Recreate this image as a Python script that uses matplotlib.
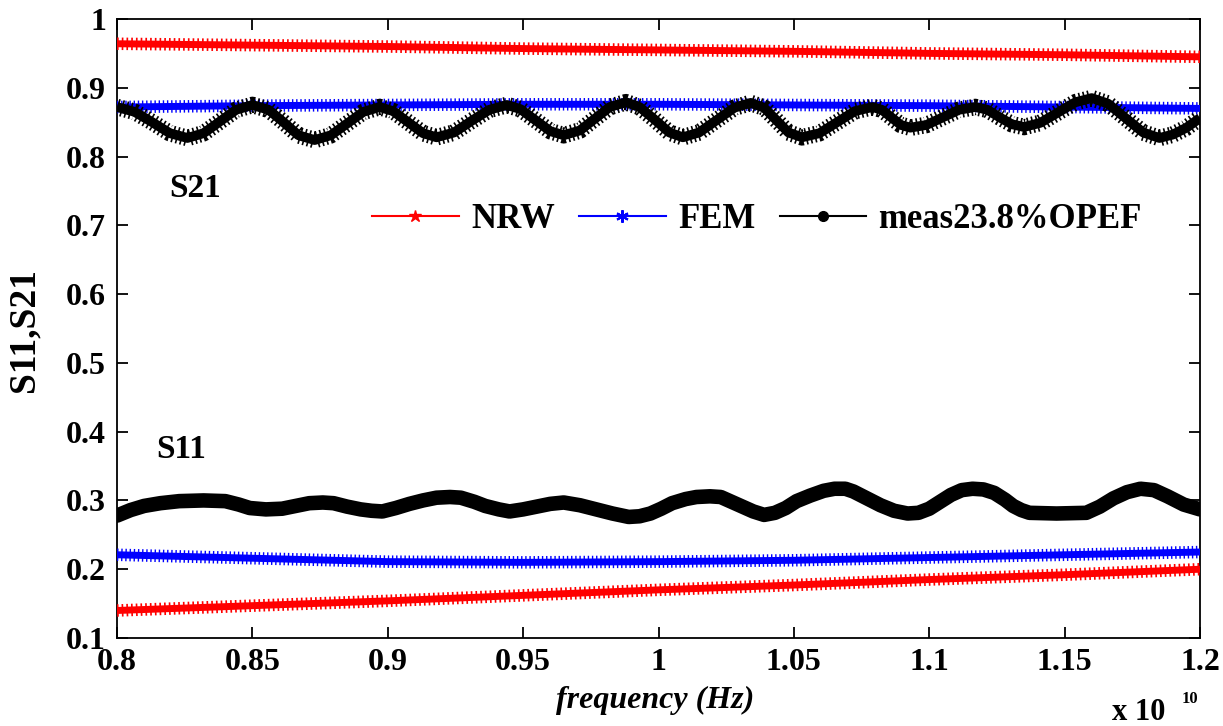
import numpy as np
import matplotlib
matplotlib.use("Agg")
import matplotlib.pyplot as plt
from matplotlib.lines import Line2D
from matplotlib.ticker import FuncFormatter, MultipleLocator

plt.rcParams['font.family'] = ['Liberation Serif', 'DejaVu Serif']
plt.rcParams['font.weight'] = 'bold'
plt.rcParams['lines.scale_dashes'] = False

# ---- data (frequency in units of 1e10 Hz) ----
freq_model = [0.80, 0.85, 0.90, 0.95, 1.00, 1.05, 1.10, 1.15, 1.20]
nrw_s21 = [0.964, 0.962, 0.960, 0.957, 0.955, 0.953, 0.950, 0.948, 0.945]
fem_s21 = [0.872, 0.874, 0.875, 0.876, 0.876, 0.875, 0.874, 0.872, 0.870]
nrw_s11 = [0.140, 0.147, 0.154, 0.162, 0.170, 0.177, 0.185, 0.192, 0.200]
fem_s11 = [0.221, 0.216, 0.211, 0.210, 0.211, 0.213, 0.217, 0.221, 0.225]

freq_meas_s21 = [0.800, 0.8065, 0.813, 0.8195, 0.826, 0.832, 0.838, 0.844, 0.850,
                 0.856, 0.8615, 0.867, 0.873, 0.879, 0.885, 0.891, 0.897, 0.902,
                 0.9075, 0.913, 0.918, 0.9245, 0.931, 0.9375, 0.944, 0.949, 0.9545,
                 0.960, 0.965, 0.971, 0.9765, 0.982, 0.988, 0.993, 0.9985, 1.004,
                 1.009, 1.015, 1.0215, 1.028, 1.034, 1.039, 1.0435, 1.048, 1.053,
                 1.0595, 1.066, 1.0725, 1.079, 1.0825, 1.086, 1.0895, 1.093, 1.099,
                 1.105, 1.111, 1.117, 1.1215, 1.126, 1.1305, 1.135, 1.141, 1.1475,
                 1.154, 1.160, 1.166, 1.1725, 1.179, 1.185, 1.190, 1.195, 1.200]
meas_s21 = [0.872, 0.865, 0.850, 0.834, 0.827, 0.834, 0.851, 0.868, 0.875,
            0.868, 0.850, 0.831, 0.824, 0.831, 0.848, 0.865, 0.872, 0.866,
            0.850, 0.834, 0.828, 0.835, 0.852, 0.868, 0.875, 0.869, 0.853,
            0.837, 0.831, 0.838, 0.855, 0.872, 0.879, 0.872, 0.854, 0.835,
            0.828, 0.835, 0.853, 0.871, 0.878, 0.871, 0.853, 0.835, 0.828,
            0.834, 0.850, 0.866, 0.872, 0.868, 0.857, 0.846, 0.842, 0.846,
            0.857, 0.868, 0.872, 0.868, 0.857, 0.847, 0.843, 0.849, 0.864,
            0.879, 0.885, 0.877, 0.856, 0.835, 0.827, 0.832, 0.842, 0.856]

freq_meas_s11 = [0.800, 0.805, 0.810, 0.816, 0.823, 0.832, 0.840, 0.845, 0.849,
                 0.855, 0.861, 0.866, 0.871, 0.876, 0.880, 0.885, 0.890, 0.894,
                 0.898, 0.903, 0.908, 0.913, 0.918, 0.923, 0.927, 0.932, 0.936,
                 0.941, 0.945, 0.950, 0.955, 0.960, 0.965, 0.971, 0.977, 0.983,
                 0.989, 0.993, 0.997, 1.001, 1.005, 1.010, 1.014, 1.019, 1.023,
                 1.027, 1.031, 1.035, 1.039, 1.043, 1.047, 1.051, 1.056, 1.061,
                 1.065, 1.069, 1.072, 1.077, 1.082, 1.087, 1.092, 1.096, 1.100,
                 1.104, 1.108, 1.112, 1.116, 1.120, 1.124, 1.128, 1.131, 1.134,
                 1.137, 1.147, 1.158, 1.163, 1.168, 1.173, 1.178, 1.183, 1.188,
                 1.194, 1.200]
meas_s11 = [0.278, 0.286, 0.292, 0.296, 0.299, 0.300, 0.299, 0.294, 0.289,
            0.287, 0.288, 0.292, 0.296, 0.297, 0.296, 0.291, 0.287, 0.285,
            0.284, 0.289, 0.295, 0.300, 0.304, 0.305, 0.304, 0.298, 0.292,
            0.287, 0.284, 0.287, 0.291, 0.295, 0.297, 0.293, 0.287, 0.281,
            0.276, 0.277, 0.281, 0.288, 0.296, 0.302, 0.305, 0.306, 0.305,
            0.298, 0.291, 0.284, 0.279, 0.282, 0.289, 0.299, 0.307, 0.314,
            0.317, 0.317, 0.313, 0.303, 0.293, 0.285, 0.281, 0.282, 0.288,
            0.298, 0.308, 0.315, 0.317, 0.316, 0.311, 0.301, 0.292, 0.286,
            0.282, 0.281, 0.282, 0.291, 0.303, 0.312, 0.317, 0.315, 0.306,
            0.294, 0.287]

series_names = ['NRW', 'FEM', 'meas23.8%OPEF']
SCALE = 1e10

fig = plt.figure(figsize=(12.23, 7.26), dpi=100)
ax = fig.add_axes([117 / 1223, 88 / 726, 1083 / 1223, 619 / 726])


def hz(seq):
    return np.asarray(seq) * SCALE


def dense_band(x, y, color, core, edge, dash):
    # solid core plus a short-dashed wider stroke gives the packed-marker band look
    ax.plot(x, y, color=color, lw=core, solid_capstyle='butt', zorder=3)
    ax.plot(x, y, color=color, lw=edge, dashes=dash, solid_capstyle='butt',
            dash_capstyle='butt', zorder=3)


f_model = hz(freq_model)
dense_band(f_model, nrw_s21, 'red', 5.0, 9.0, (1.2, 2.2))
dense_band(f_model, nrw_s11, 'red', 5.0, 9.0, (1.2, 2.2))
dense_band(f_model, fem_s21, 'blue', 5.0, 9.0, (1.0, 2.0))
dense_band(f_model, fem_s11, 'blue', 5.0, 9.0, (1.0, 2.0))
dense_band(hz(freq_meas_s21), meas_s21, 'black', 7.0, 12.0, (1.2, 2.0))
ax.plot(hz(freq_meas_s11), meas_s11, color='black', lw=10.5,
        solid_capstyle='round', solid_joinstyle='round', zorder=3)

ax.set_xlim(0.8 * SCALE, 1.2 * SCALE)
ax.set_ylim(0.1, 1.0)
ax.xaxis.set_major_locator(MultipleLocator(0.05 * SCALE))
ax.yaxis.set_major_locator(MultipleLocator(0.1))
ax.xaxis.set_major_formatter(FuncFormatter(lambda v, p: f"{v / SCALE:g}"))
ax.yaxis.set_major_formatter(FuncFormatter(lambda v, p: f"{round(v, 2):g}"))
ax.tick_params(direction='in', length=8, width=1.3, top=True, right=True,
               labelsize=23, pad=7, colors='black')
ax.tick_params(axis='y', pad=8)
for sp in ax.spines.values():
    sp.set_linewidth(1.3)

# curve annotations
ax.text(0.8288 * SCALE, 0.754, 'S21', fontsize=24, fontweight='bold',
        ha='center', va='center')
ax.text(0.8236 * SCALE, 0.3735, 'S11', fontsize=24, fontweight='bold',
        ha='center', va='center')

# legend
handles = [
    Line2D([], [], color='red', lw=1.5, marker='*', markersize=9),
    Line2D([], [], color='blue', lw=1.5, marker=(6, 2, 0), markersize=9,
           markeredgewidth=1.5),
    Line2D([], [], color='black', lw=1.5, marker='o', markersize=7),
]
ax.legend(handles, series_names, loc='center left',
          bbox_to_anchor=((372 - 117) / 1083, (638 - 220) / 619),
          ncol=3, frameon=False, handlelength=2.5,
          handletextpad=0.35, columnspacing=0.7, borderpad=0, borderaxespad=0,
          prop={'weight': 'bold', 'size': 25})

# axis labels
fig.text(24 / 1223, 1 - 330 / 726, 'S11,S21', rotation=90, fontsize=27,
         fontweight='bold', ha='center', va='center')
fig.text(655 / 1223, 1 - 700 / 726, 'frequency (Hz)', fontsize=23,
         fontweight='bold', style='italic', ha='center', va='center')
fig.text(1112 / 1223, 1 - 713 / 726, 'x 10', fontsize=22, fontweight='bold',
         ha='left', va='center')
fig.text(1182 / 1223, 1 - 699 / 726, '10', fontsize=12, fontweight='bold',
         ha='left', va='center')

fig.savefig('out.png', dpi=100)
